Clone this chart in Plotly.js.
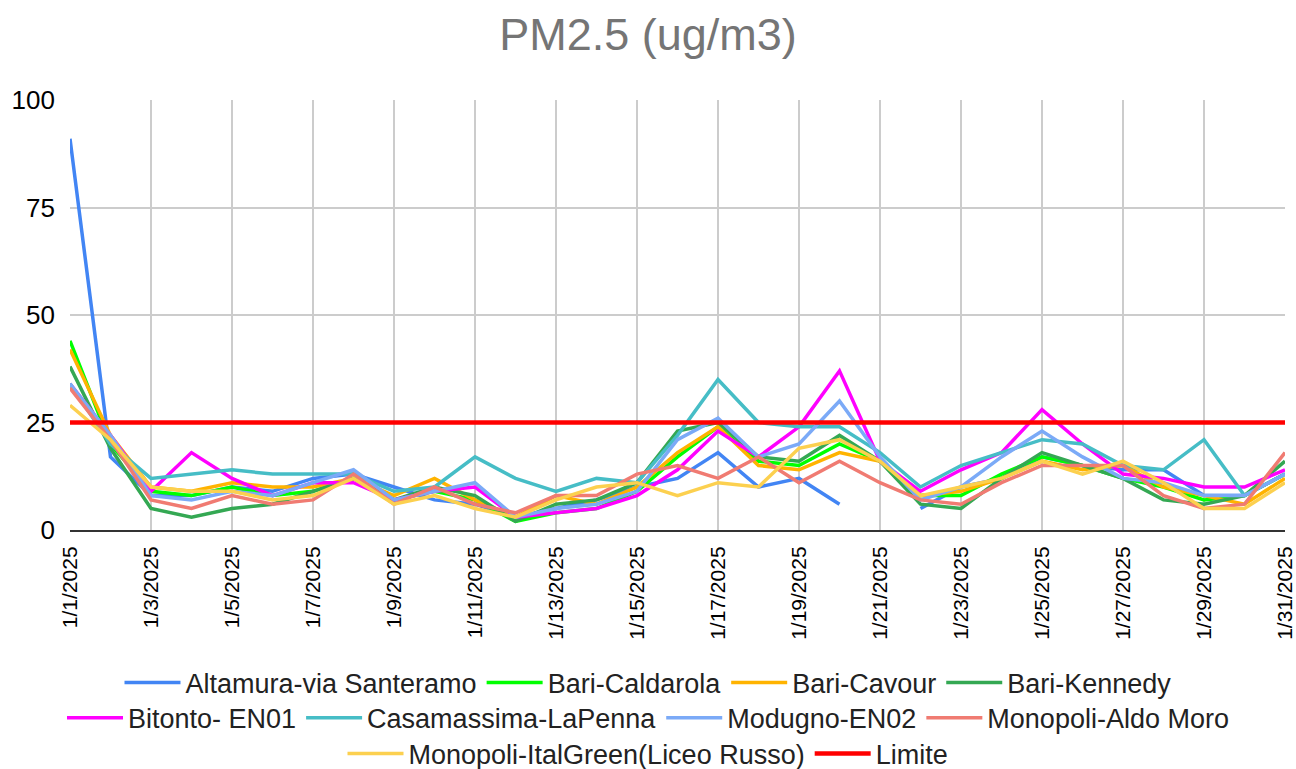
<!DOCTYPE html>
<html>
<head>
<meta charset="utf-8">
<script src="https://cdn.plot.ly/plotly-3.0.1.min.js"></script>
<style>html,body{margin:0;padding:0;background:#fff}#chart{width:1296px;height:769px}</style>
</head>
<body>
<div id="chart"></div>
<script>
const dates = [];
for (let d = 1; d <= 31; d++) dates.push('2025-01-' + String(d).padStart(2, '0'));

const altamura     = [91,17,8,8,10,9,12,13,10,7,6,3,5,7,10,12,18,10,12,6,null,5,10,12,17,15,14,14,8,8,13];
const caldarola    = [44,20,9,8,10,8,9,12,7,9,7,2,4,5,9,17,24,16,15,20,16,8,8,13,17,15,12,10,7,8,13];
const cavour       = [42,22,10,9,11,10,10,12,8,12,7,3,8,6,10,18,24,15,14,18,16,8,9,12,16,14,15,10,8,6,12];
const kennedy      = [38,19,5,3,5,6,9,12,7,10,8,2,6,7,11,23,25,17,16,22,16,6,5,12,18,15,12,7,6,8,16];
const bitonto      = [34,22,9,18,12,8,11,11,7,9,10,3,4,5,8,14,23,17,24,37,16,9,14,18,28,20,13,12,10,10,14];
const casamassima  = [34,20,12,13,14,13,13,13,9,10,17,12,9,12,11,22,35,25,24,24,18,10,15,18,21,20,15,14,21,8,13];
const modugno      = [34,22,8,7,9,8,11,14,7,9,11,3,5,6,9,21,26,17,20,30,17,7,10,17,23,17,12,11,8,8,13];
const aldoMoro     = [33,21,7,5,8,6,7,13,6,10,6,4,8,8,13,15,12,17,11,16,11,7,6,11,15,15,15,8,5,6,18];
const italGreen    = [29,21,10,9,9,7,8,12,6,8,5,3,7,10,11,8,11,10,19,21,16,8,10,12,16,13,16,11,5,5,11];
const limite       = new Array(31).fill(25);

const seriesNames = ['Altamura-via Santeramo','Bari-Caldarola','Bari-Cavour','Bari-Kennedy',
  'Bitonto- EN01','Casamassima-LaPenna','Modugno-EN02','Monopoli-Aldo Moro',
  'Monopoli-ItalGreen(Liceo Russo)','Limite'];
const seriesData = [altamura,caldarola,cavour,kennedy,bitonto,casamassima,modugno,aldoMoro,italGreen,limite];
const colors = ['#4285F4','#00FF00','#FFB300','#34A853','#FF00FF','#46BDC6','#7BAAF7','#F07B72','#FCD04F','#FF0000'];
const legendIds = ['legend','legend','legend','legend','legend2','legend2','legend2','legend2','legend3','legend3'];

const traces = seriesNames.map((n, i) => ({
  x: dates, y: seriesData[i], name: n, type: 'scatter', mode: 'lines',
  line: {color: colors[i], width: i === 9 ? 4.5 : 3.5},
  connectgaps: false, legend: legendIds[i], hoverinfo: 'x+y+name'
}));

const font = 'Liberation Sans, Arial, sans-serif';
const legendBase = {orientation: 'h', x: 0.5, xanchor: 'center', xref: 'container', yanchor: 'middle', yref: 'container',
  font: {family: font, size: 27, color: '#222'}, bgcolor: 'rgba(0,0,0,0)', itemwidth: 56};

const layout = {
  width: 1296, height: 769,
  margin: {l: 70, r: 11, t: 100, b: 239},
  paper_bgcolor: '#fff', plot_bgcolor: '#fff',
  title: {text: 'PM2.5 (ug/m3)', x: 0.5, xanchor: 'center', y: 0.956, yanchor: 'middle', yref: 'container',
    font: {family: font, size: 45, color: '#757575'}},
  xaxis: {
    type: 'date', range: ['2025-01-01', '2025-01-31'],
    tick0: '2025-01-01', dtick: 2 * 86400000, tickformat: '%-m/%-d/%Y',
    tickangle: -90, tickfont: {family: font, size: 21, color: '#000'},
    showgrid: true, gridcolor: '#CCCCCC', gridwidth: 1.5,
    showline: true, linecolor: '#333', linewidth: 2, zeroline: false, ticks: '',
    ticklabelstandoff: 6, automargin: false
  },
  yaxis: {
    range: [0, 100], dtick: 25, tickfont: {family: font, size: 26, color: '#000'},
    showgrid: true, gridcolor: '#CCCCCC', gridwidth: 1.5, zeroline: false, ticks: '',
    ticklabelstandoff: 14, automargin: false
  },
  legend: Object.assign({}, legendBase, {y: 0.112}),
  legend2: Object.assign({}, legendBase, {y: 0.066}),
  legend3: Object.assign({}, legendBase, {y: 0.0195}),
  showlegend: true
};

Plotly.newPlot('chart', traces, layout, {displayModeBar: false, responsive: false});
</script>
</body>
</html>
